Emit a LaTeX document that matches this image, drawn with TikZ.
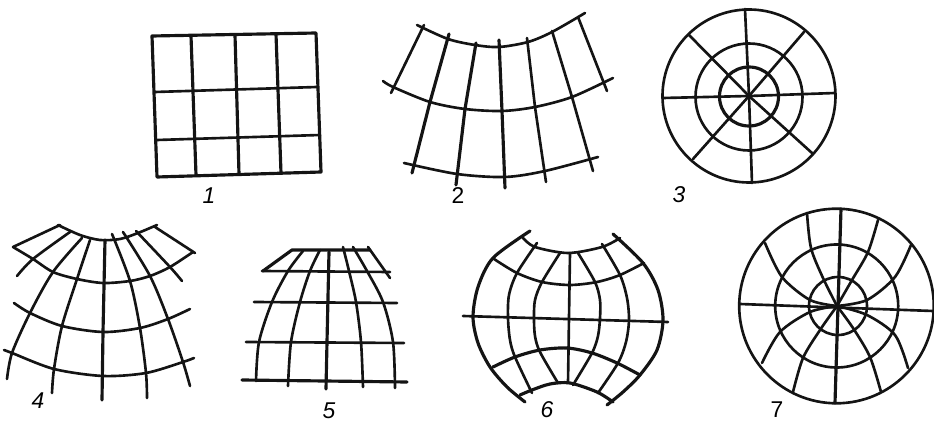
\documentclass[tikz,border=0pt]{standalone}
\usepackage{fontspec}
\setmainfont{Liberation Sans}
\usepackage{tikz}
\begin{document}
\begin{tikzpicture}[x=0.02cm, y=-0.02cm,
      grid/.style={line width=1.5pt, line cap=round, black!92, line join=round},
      gridb/.style={grid, line width=1.8pt},
      lab/.style={font=\fontsize{13}{15}\selectfont\itshape, inner sep=0pt},
      labr/.style={font=\fontsize{13}{15}\selectfont, inner sep=0pt}]
    \useasboundingbox (0, 0) rectangle (934, 422);
    \draw[gridb] (152, 36) -- (316, 33) -- (321, 172) -- (157, 177) -- cycle;
    \draw[gridb] (191, 36) -- (196, 175);
    \draw[gridb] (235, 35) -- (239, 174);
    \draw[gridb] (276, 34) -- (281, 173);
    \draw[grid] (155, 92) -- (317, 87);
    \draw[grid] (157, 140) -- (320, 135);
    \node[lab] (lab1) at (209, 196) {1};

    \draw[grid] plot[smooth] coordinates {(417, 25) (448, 39) (475, 45) (499, 47) (528, 42) (552, 32) (585, 13)};
    \draw[grid] plot[smooth] coordinates {(383, 81) (393, 87) (430, 102) (465, 109) (502, 111) (535, 107) (572, 97) (613, 78)};
    \draw[grid] plot[smooth] coordinates {(404, 163) (457, 174) (505, 177) (545, 171) (598, 157)};
    \draw[grid] (424, 25) -- (391, 93);
    \draw[gridb] (449, 34) -- (430, 102) -- (412, 173);
    \draw[gridb] (476, 43) -- (465, 109) -- (456, 185);
    \draw[gridb] (499, 40) -- (502, 111) -- (505, 188);
    \draw[grid] (527, 38) -- (535, 107) -- (546, 182);
    \draw[grid] (552, 31) -- (572, 97) -- (593, 171);
    \draw[grid] (578, 17) -- (607, 91);
    \node[labr] (lab2) at (458, 196) {2};

    \draw[grid] (749, 96) circle[radius=86.5];
    \draw[grid] (749, 97) circle[radius=53.5];
    \draw[gridb] (749, 96.5) circle[radius=29.5];
    \foreach \ex/\ey in {745/9, 752/183, 663/98, 835/93, 689/35, 804/32, 693/159, 812/153}
      \draw[grid] (749, 96) -- (\ex, \ey);
    \node[lab] (lab3) at (679, 195) {3};

    \draw[grid] plot[smooth] coordinates {(58, 225) (80, 235) (100, 240) (120, 239) (138, 233) (157, 225)};
    \draw[grid] (13, 247) -- (60, 225);
    \draw[grid] (155, 227) -- (195, 253);
    \draw[grid] plot[smooth] coordinates {(13, 247) (33, 259) (53, 272) (77, 279) (103, 283) (130, 281) (150, 276) (170, 267) (193, 252)};
    \draw[grid] plot[smooth] coordinates {(14, 303) (30, 313) (62, 326) (103, 332) (140, 328) (168, 319) (190, 309)};
    \draw[grid] plot[smooth] coordinates {(4, 350) (12, 353) (54, 369) (103, 376) (146, 373) (183, 362) (194, 358)};
    \draw[grid] plot[smooth] coordinates {(70, 232) (33, 259) (17, 276)};
    \draw[grid] plot[smooth] coordinates {(82, 238) (53, 272) (30, 313) (12, 353) (7, 379)};
    \draw[grid] plot[smooth] coordinates {(90, 240) (77, 279) (62, 326) (54, 369) (52, 393)};
    \draw[gridb] (105, 240) -- (103, 332) -- (102, 400);
    \draw[grid] plot[smooth] coordinates {(112, 234) (130, 281) (140, 328) (146, 373) (147, 398)};
    \draw[grid] plot[smooth] coordinates {(123, 232) (150, 276) (168, 319) (183, 362) (190, 386)};
    \draw[grid] plot[smooth] coordinates {(136, 231) (170, 267) (182, 281)};
    \node[lab] (lab4) at (38, 401) {4};

    \draw[gridb] (263, 271) -- (292, 250) -- (370, 250);
    \draw[grid] (262, 271) -- (390, 272);
    \draw[grid] (254, 302) -- (397, 303);
    \draw[grid] (246, 342) -- (404, 343);
    \draw[gridb] (242, 380) -- (407, 382);
    \draw[grid] plot[smooth] coordinates {(303, 251) (288, 271) (272, 302) (259, 342) (256, 381)};
    \draw[grid] plot[smooth] coordinates {(320, 250) (310, 271) (300, 302) (291, 342) (288, 386)};
    \draw[gridb] (329, 252) -- (327, 342) -- (326, 389);
    \draw[grid] plot[smooth] coordinates {(343, 247) (349, 271) (356, 302) (361, 342) (363, 387)};
    \draw[grid] plot[smooth] coordinates {(353, 247) (367, 271) (383, 302) (393, 342) (395, 388)};
    \draw[grid] (368, 247) -- (390, 278);
    \node[lab] (lab5) at (329, 411) {5};

    \draw[gridb] plot[smooth] coordinates {(530, 231) (493, 258) (478, 287) (473, 317) (478, 343) (490, 367) (507, 387) (525, 402)};
    \draw[gridb] plot[smooth] coordinates {(613, 234) (643, 263) (658, 290) (663, 320) (657, 350) (640, 375) (623, 392) (607, 405)};
    \draw[grid] plot[smooth] coordinates {(523, 238) (535, 247) (568, 253) (602, 247) (620, 238)};
    \draw[grid] plot[smooth] coordinates {(494, 259) (517, 273) (542, 282) (570, 285) (597, 282) (620, 275) (644, 263)};
    \draw[grid] (463, 316) -- (668, 322);
    \draw[gridb] plot[smooth] coordinates {(493, 367) (515, 357) (540, 350) (567, 348) (592, 353) (617, 363) (640, 375)};
    \draw[gridb] plot[smooth] coordinates {(520, 395) (532, 390) (550, 384) (570, 383) (597, 392) (613, 402)};
    \draw[grid] plot[smooth] coordinates {(537, 243) (517, 273) (509, 295) (508, 318) (510, 340) (515, 357) (532, 393)};
    \draw[grid] plot[smooth] coordinates {(560, 253) (542, 282) (535, 300) (534, 318) (535, 336) (540, 352) (558, 383)};
    \draw[grid] (570, 253) -- (568, 383);
    \draw[grid] plot[smooth] coordinates {(578, 253) (595, 282) (600, 300) (600, 318) (598, 336) (592, 353) (573, 385)};
    \draw[grid] plot[smooth] coordinates {(602, 244) (620, 275) (627, 298) (629, 320) (626, 342) (618, 363) (598, 393)};
    \node[lab] (lab6) at (547, 410) {6};

    \draw[grid] (836.5, 306) circle[radius=97.3];
    \draw[grid] (836.7, 306) circle[radius=61.5];
    \draw[grid] (838, 306) circle[radius=29];
    \draw[grid] (740, 304) -- (933, 311);
    \draw[gridb] (841, 209) -- (835, 403);
    \draw[grid] plot[smooth] coordinates {(765, 243) (782, 277) (810, 300) (837, 306)};
    \draw[grid] plot[smooth] coordinates {(807, 213) (811, 248) (823, 278) (837, 306)};
    \draw[grid] plot[smooth] coordinates {(878, 220) (868, 252) (852, 280) (837, 306)};
    \draw[grid] plot[smooth] coordinates {(911, 245) (895, 277) (867, 300) (837, 306)};
    \draw[grid] plot[smooth] coordinates {(762, 363) (780, 332) (810, 312) (837, 306)};
    \draw[grid] plot[smooth] coordinates {(793, 392) (803, 358) (820, 330) (837, 306)};
    \draw[grid] plot[smooth] coordinates {(908, 368) (895, 335) (867, 315) (837, 306)};
    \draw[grid] plot[smooth] coordinates {(881, 392) (870, 357) (853, 328) (837, 306)};
    \node[labr] (lab7) at (777, 410) {7};
  \end{tikzpicture}
\end{document}
